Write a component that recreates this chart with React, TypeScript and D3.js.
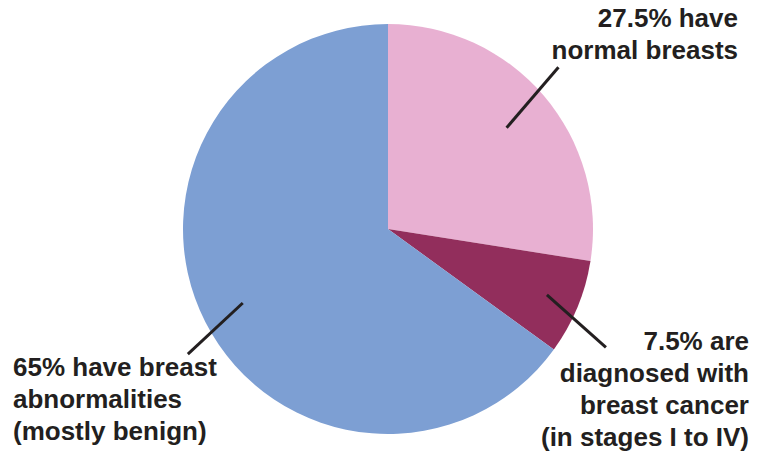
import React from 'react'
import * as d3 from 'd3'

// slices, clockwise from 12 o'clock
const categories = ['normal', 'cancer', 'abnormal']
const values = [27.5, 7.5, 65]
const colors = ['#E8B0D2', '#922E5C', '#7D9FD3']

const labels = [
  ['27.5% have', 'normal breasts'],
  ['7.5% are', 'diagnosed with', 'breast cancer', '(in stages I to IV)'],
  ['65% have breast', 'abnormalities', '(mostly benign)'],
]

const W = 767
const H = 452
const cx = 388
const cy = 229
const R = 205

// where each label block sits and how its leader line is drawn
const labelLayout = [
  { x: 738, y: 27, anchor: 'end', r0: 156, r1: 235, shift: -3 },
  { x: 749, y: 350, anchor: 'end', r0: 172, r1: 248, shift: 6 },
  { x: 13, y: 376, anchor: 'start', r0: 163, r1: 236, shift: -5 },
]

const lineHeight = 32

const App = () => {
  const pie = d3.pie<number>().sort(null).value(d => d)
  const arcs = pie(values)
  const arcMaker = d3.arc<d3.PieArcDatum<number>>().innerRadius(0).outerRadius(R)

  const polar = (r: number, deg: number): [number, number] => {
    const a = (deg * Math.PI) / 180
    return [r * Math.sin(a), -r * Math.cos(a)]
  }

  return (
    <svg width={W} height={H} style={{ position: 'absolute', left: 0, top: 0 }}>
      <g transform={`translate(${cx},${cy})`}>
        {arcs.map((a, i) => (
          <path key={categories[i]} d={arcMaker(a) || ''} fill={colors[i]} />
        ))}
        {arcs.map((a, i) => {
          const l = labelLayout[i]
          const mid = ((a.startAngle + a.endAngle) / 2) * 180 / Math.PI
          const p0 = polar(l.r0, mid)
          const p1 = polar(l.r1, mid + l.shift)
          return (
            <line key={'l' + i} x1={p0[0]} y1={p0[1]} x2={p1[0]} y2={p1[1]}
              stroke="#231F20" strokeWidth={3} />
          )
        })}
      </g>
      {labels.map((lines, i) => {
        const l = labelLayout[i]
        return (
          <text key={'t' + i} x={l.x} y={l.y} textAnchor={l.anchor}
            fontFamily="'Liberation Sans', Arial, sans-serif" fontWeight="bold"
            fontSize={26} fill="#231F20">
            {lines.map((s, j) => (
              <tspan key={j} x={l.x} y={l.y + j * lineHeight}>{s}</tspan>
            ))}
          </text>
        )
      })}
    </svg>
  )
}

export default App
